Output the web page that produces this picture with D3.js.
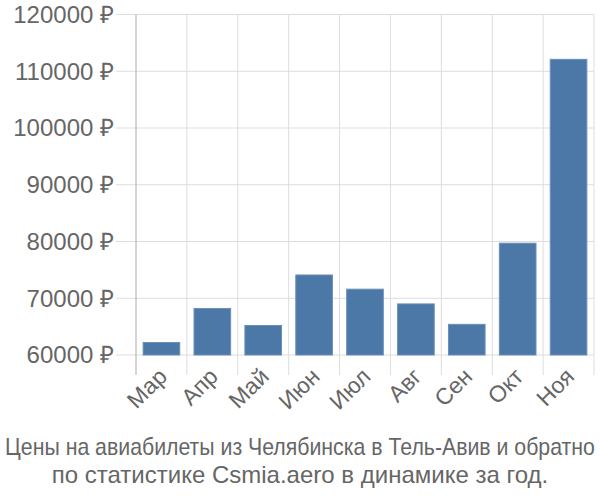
<!DOCTYPE html>
<html><head><meta charset="utf-8">
<script src="https://cdn.jsdelivr.net/npm/d3@7"></script>
<style>body{margin:0;background:#fff}svg{display:block}text{font-family:"Liberation Sans",Arial,sans-serif}</style>
</head><body><svg id="c" width="600" height="500"></svg>
<script>
const months = ["Мар","Апр","Май","Июн","Июл","Авг","Сен","Окт","Ноя"];
const prices = [62200,68200,65200,74100,71600,69000,65400,79700,112100];
const yTicks = [60000,70000,80000,90000,100000,110000,120000];
const titleLines = ["Цены на авиабилеты из Челябинска в Тель-Авив и обратно","по статистике Csmia.aero в динамике за год."];

const svg = d3.select("#c");
const L=136, R=594, T=14.5, B=355;
const x = d3.scaleBand().domain(months).range([L,R]).paddingInner(0.28).paddingOuter(0.14);
const y = d3.scaleLinear().domain([60000,120000]).range([B,T]);
const grid = "#dddddd";

svg.append("g").selectAll("line").data(yTicks).join("line")
  .attr("x1",L-20).attr("x2",R).attr("y1",d=>y(d)).attr("y2",d=>y(d))
  .attr("stroke",grid).attr("stroke-width",1);
const bounds = months.map((m,i)=>L + i*(R-L)/months.length).concat([R]);
svg.append("g").selectAll("line").data(bounds).join("line")
  .attr("x1",d=>d).attr("x2",d=>d).attr("y1",T).attr("y2",B+20)
  .attr("stroke",(d,i)=>i===0?"#aaaaaa":grid).attr("stroke-width",1);

svg.append("g").selectAll("text").data(yTicks).join("text")
  .attr("x",L-22).attr("y",d=>y(d)).attr("dy","0.35em").attr("text-anchor","end")
  .attr("font-size",24).attr("fill","#666").text(d=>d+" ₽");

svg.append("g").selectAll("rect").data(prices).join("rect")
  .attr("x",(d,i)=>x(months[i])).attr("width",x.bandwidth())
  .attr("y",d=>y(d)).attr("height",d=>B-y(d))
  .attr("fill","#4c78a8").attr("stroke","#6a8fbb").attr("stroke-width",1);

svg.append("g").selectAll("text").data(months).join("text")
  .attr("transform",d=>`translate(${x(d)+x.bandwidth()/2+7},${B+23}) rotate(-45)`)
  .attr("text-anchor","end").attr("font-size",23).attr("fill","#666").text(d=>d);

svg.append("g").selectAll("text").data(titleLines).join("text")
  .attr("x",0).attr("y",0).attr("text-anchor","middle")
  .attr("font-size",24).attr("fill","#666").text(d=>d)
  .attr("transform",function(d,i){
    const w=this.getComputedTextLength();
    const s=Math.min(1,590/w);
    return `translate(300,${455+i*28}) scale(${s},1)`;
  });
</script></body></html>
